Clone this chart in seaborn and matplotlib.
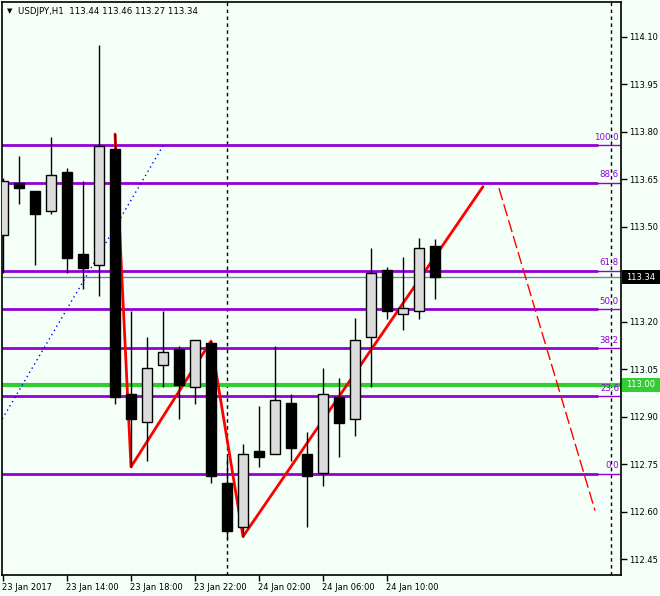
import numpy as np
import pandas as pd
import seaborn as sns
import matplotlib
matplotlib.use("Agg")
import matplotlib.pyplot as plt
import matplotlib.transforms as mtransforms
from matplotlib.patches import Rectangle

# ---------------- data ----------------
bar_index = list(range(28))
opens  = [113.472, 113.636, 113.613, 113.550, 113.673, 113.414, 113.380, 113.745,
          112.972, 112.882, 113.062, 113.114, 112.993, 113.133, 112.691, 112.551,
          112.792, 112.781, 112.943, 112.782, 112.721, 112.961, 112.892, 113.151,
          113.363, 113.223, 113.233, 113.44]
highs  = [113.654, 113.723, 113.613, 113.783, 113.685, 113.644, 114.073, 113.792,
          113.234, 113.152, 113.234, 113.123, 113.141, 113.138, 112.772, 112.814,
          112.934, 113.123, 112.971, 112.851, 113.053, 113.021, 113.212, 113.433,
          113.373, 113.404, 113.464, 113.46]
lows   = [113.354, 113.572, 113.379, 113.540, 113.352, 113.302, 113.282, 112.941,
          112.741, 112.761, 112.993, 112.891, 112.941, 112.689, 112.514, 112.521,
          112.739, 112.781, 112.761, 112.550, 112.679, 112.771, 112.840, 112.992,
          113.209, 113.172, 113.209, 113.27]
closes = [113.644, 113.623, 113.541, 113.663, 113.402, 113.370, 113.755, 112.961,
          112.891, 113.053, 113.103, 113.001, 113.141, 112.711, 112.540, 112.781,
          112.771, 112.952, 112.799, 112.711, 112.971, 112.881, 113.141, 113.353,
          113.232, 113.242, 113.433, 113.34]

time_tick_pos = [0, 4, 8, 12, 16, 20, 24]
time_tick_labels = ["23 Jan 2017", "23 Jan 14:00", "23 Jan 18:00", "23 Jan 22:00",
                    "24 Jan 02:00", "24 Jan 06:00", "24 Jan 10:00"]
price_ticks = [114.10, 113.95, 113.80, 113.65, 113.50, 113.20, 113.05,
               112.90, 112.75, 112.60, 112.45]

fib_low, fib_high = 112.72, 113.756
fib_levels = [0.0, 23.6, 38.2, 50.0, 61.8, 88.6, 100.0]

zigzag_x = [7, 8, 13, 15, 30]
zigzag_y = [113.792, 112.741, 113.138, 112.521, 113.626]
proj_x = [31, 37]
proj_y = [113.621, 112.603]
trend_x = [-0.2, 10]
trend_y = [112.879, 113.755]
day_separators = [14, 38]
support_level = 113.00
last_price = 113.34
title = "USDJPY,H1  113.44 113.46 113.27 113.34"

# ---------------- style ----------------
BG = "#F4FFF8"
sns.set_theme(style="white")
plt.rcParams["font.family"] = ["DejaVu Sans"]

W, H = 660, 596
fig = plt.figure(figsize=(W / 100, H / 100), dpi=100, facecolor=BG)
ax = fig.add_axes([2 / W, 1 - 575 / H, (621 - 2) / W, (575 - 2) / H])
ax.set_facecolor(BG)

ymin, ymax = 112.3995, 114.209
ax.set_xlim(-0.0625, 38.625)
ax.set_ylim(ymin, ymax)

# horizontal fib lines
for lv in fib_levels:
    p = fib_low + (fib_high - fib_low) * lv / 100.0
    ax.plot([-1, 37.2], [p, p], color="#9400D3", lw=2.0, zorder=2, solid_capstyle="butt")
    ax.plot([37.2, 40], [p, p], color="#9400D3", lw=1.0, zorder=2)
    ax.text(38.5, p + 0.011, f"{lv:.1f}", color="#9400D3", fontsize=6.2,
            ha="right", va="bottom", zorder=6)

# support & current price lines
ax.axhline(support_level, color="#32CD32", lw=3.0, zorder=2)
ax.axhline(last_price, color="#778899", lw=1.0, zorder=2)

# day separators
for d in day_separators:
    ax.axvline(d, color="black", lw=1.0, ls=(0, (2.5, 2.5)), zorder=1)

# trend line (blue dotted)
ax.plot(trend_x, trend_y, color="blue", lw=1.0, ls=(0, (1, 2.5)), zorder=2)

# zigzag and projection (behind candles)
n_before = len(ax.lines)
zz = pd.DataFrame({"bar": zigzag_x, "price": zigzag_y})
sns.lineplot(data=zz, x="bar", y="price", ax=ax, color="#FF0000", lw=2.0,
             sort=False, estimator=None)
pj = pd.DataFrame({"bar": proj_x, "price": proj_y})
sns.lineplot(data=pj, x="bar", y="price", ax=ax, color="#FF0000", lw=1.0,
             sort=False, estimator=None, linestyle=(0, (9, 3)))
for ln in ax.lines[n_before:]:
    ln.set_zorder(3)

# candles
o = np.array(opens); c = np.array(closes)
x = np.array(bar_index)
ax.vlines(x, lows, highs, color="black", lw=1.0, zorder=4)
bull = c >= o
ax.bar(x[bull], (c - o)[bull], bottom=o[bull], width=0.66, color="#DCDCDC",
       edgecolor="black", linewidth=1.0, zorder=5)
ax.bar(x[~bull], (c - o)[~bull], bottom=o[~bull], width=0.66, color="black",
       edgecolor="black", linewidth=1.0, zorder=5)

# axes cosmetics
ax.set_xlabel(""); ax.set_ylabel("")
for s in ["left", "top", "right", "bottom"]:
    ax.spines[s].set_visible(True)
    ax.spines[s].set_color("black")
    ax.spines[s].set_linewidth(1.2)
ax.yaxis.tick_right()
ax.set_yticks(price_ticks)
ax.set_yticklabels([f"{v:.2f}" for v in price_ticks])
ax.tick_params(axis="y", which="both", right=True, left=False, length=4, width=1,
               color="black", labelsize=6, pad=2, labelcolor="black")
ax.set_xticks(time_tick_pos)
ax.set_xticklabels(time_tick_labels)
ax.tick_params(axis="x", bottom=True, length=4, width=1, color="black",
               labelsize=6, pad=2, labelcolor="black")
for lab in ax.get_xticklabels():
    lab.set_ha("left")
    lab.set_transform(lab.get_transform() + mtransforms.ScaledTranslation(-1 / 100, 0, fig.dpi_scale_trans))

# right price boxes
btrans = mtransforms.blended_transform_factory(fig.transFigure, ax.transData)
bh = 13.5 / 316.8
for price, col in [(support_level, "#32CD32"), (last_price, "black")]:
    fig.add_artist(Rectangle((622 / W, price - bh / 2), 38 / W, bh, transform=btrans,
                             facecolor=col, edgecolor="none", zorder=10, clip_on=False))
    fig.text(626 / W, price, f"{price:.2f}", transform=btrans, color="white",
             fontsize=6, va="center", ha="left", zorder=11)

# title
fig.text(7 / W, 1 - 11 / H, "\u25BC", fontsize=5, va="center", ha="left", color="black")
fig.text(18 / W, 1 - 11 / H, title, fontsize=6.2, va="center", ha="left", color="black")

fig.savefig("out.png", dpi=100, facecolor=BG)
